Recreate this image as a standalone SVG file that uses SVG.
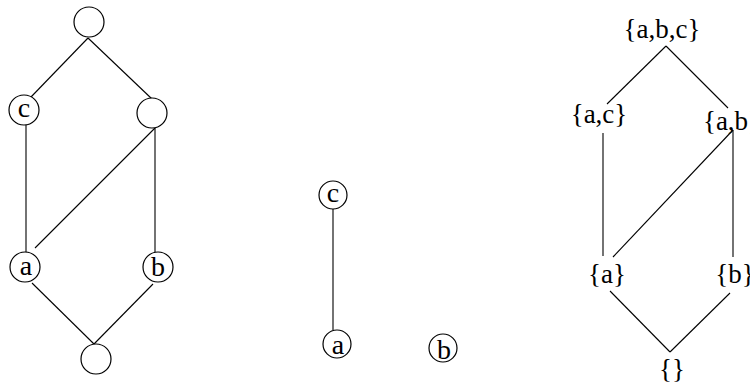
<svg xmlns="http://www.w3.org/2000/svg" width="750" height="384" viewBox="0 0 750 384">
<style>
.n{fill:#fff;stroke:#000;stroke-width:1.2}
.e line{stroke:#000;stroke-width:1.1}
.l{font-family:"Liberation Serif",serif;font-size:28px;text-anchor:middle;fill:#000}
.s{font-family:"Liberation Serif",serif;font-size:27px;text-anchor:middle;fill:#000}
</style>
<rect width="750" height="384" fill="#fff"/>
<g class="e" id="connectors">
<line x1="88" y1="38" x2="31" y2="97"/>
<line x1="88" y1="38" x2="152" y2="99"/>
<line x1="26" y1="124" x2="26" y2="253"/>
<line x1="155" y1="128" x2="155" y2="253"/>
<line x1="155" y1="128" x2="35" y2="248"/>
<line x1="32" y1="283" x2="94" y2="344"/>
<line x1="153" y1="284" x2="94" y2="344"/>
<line x1="333" y1="209" x2="333" y2="330"/>
<line x1="666" y1="46" x2="607" y2="104"/>
<line x1="666" y1="46" x2="728" y2="108"/>
<line x1="603" y1="133" x2="603" y2="256"/>
<line x1="733" y1="130" x2="733" y2="257"/>
<line x1="733" y1="130" x2="613" y2="257"/>
<line x1="610" y1="291" x2="670" y2="352"/>
<line x1="730" y1="293" x2="670" y2="352"/>
</g>
<g id="L_top"><circle class="n" cx="89" cy="22" r="15"/></g>
<g id="L_c"><circle class="n" cx="24" cy="110" r="15"/><text class="l" x="24" y="117">c</text></g>
<g id="L_ab"><circle class="n" cx="152" cy="113" r="15"/></g>
<g id="L_a"><circle class="n" cx="25" cy="267" r="15"/><text class="l" x="26" y="275">a</text></g>
<g id="L_b"><circle class="n" cx="158" cy="267" r="15"/><text class="l" x="158" y="276">b</text></g>
<g id="L_bot"><circle class="n" cx="96" cy="359" r="15"/></g>
<g id="M_c"><circle class="n" cx="333" cy="195" r="14"/><text class="l" x="333" y="202">c</text></g>
<g id="M_a"><circle class="n" cx="337" cy="344" r="14"/><text class="l" x="338" y="354">a</text></g>
<g id="M_b"><circle class="n" cx="443" cy="348" r="14"/><text class="l" x="444" y="359">b</text></g>
<g id="R_abc"><text class="s" x="662" y="38">{a,b,c}</text></g>
<g id="R_ac"><text class="s" x="599" y="123">{a,c}</text></g>
<g id="R_ab"><text class="s" x="732" y="130">{a,b}</text></g>
<g id="R_a"><text class="s" x="607" y="283">{a}</text></g>
<g id="R_b"><text class="s" x="735" y="283">{b}</text></g>
<g id="R_e"><text class="s" x="672" y="378">{}</text></g>
</svg>
